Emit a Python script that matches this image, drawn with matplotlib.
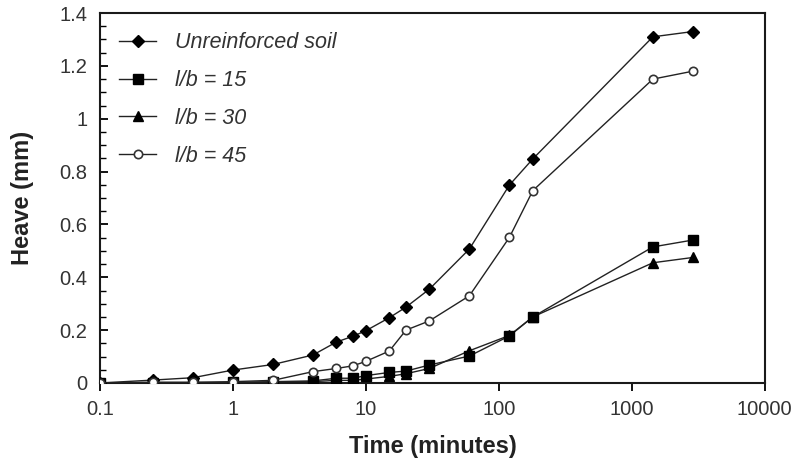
import numpy as np
import matplotlib
matplotlib.use("Agg")
import matplotlib.pyplot as plt
from matplotlib.ticker import FixedLocator, MultipleLocator, FuncFormatter

plt.rcParams['font.family'] = ['Liberation Sans', 'DejaVu Sans']

# Time in minutes
time_min = [0.1, 0.25, 0.5, 1, 2, 4, 6, 8, 10, 15, 20, 30, 60, 120, 180, 1440, 2880]

# Heave (mm) for each case
unreinforced = [0, 0.011, 0.02, 0.049, 0.07, 0.106, 0.155, 0.177, 0.198, 0.247,
                0.287, 0.355, 0.507, 0.749, 0.848, 1.31, 1.33]
lb15 = [0, 0, 0, 0.002, 0.005, 0.008, 0.018, 0.018, 0.028, 0.04,
        0.045, 0.068, 0.102, 0.178, 0.25, 0.515, 0.541]
lb30 = [0, 0, 0, 0, 0.004, 0.005, 0.01, 0.01, 0.015, 0.025,
        0.035, 0.055, 0.122, 0.18, 0.25, 0.455, 0.475]
lb45 = [0, 0.003, 0.003, 0.005, 0.01, 0.043, 0.055, 0.065, 0.082, 0.121,
        0.2, 0.235, 0.33, 0.551, 0.728, 1.15, 1.18]

labels = ["Unreinforced soil", "l/b = 15", "l/b = 30", "l/b = 45"]

fig = plt.figure(figsize=(8, 4.59), dpi=100)
ax = fig.add_axes([0.125, 0.1656, 0.831, 0.806])

lc = '#222222'
ax.plot(time_min, unreinforced, color=lc, lw=1.0, marker='D', ms=6.5,
        mfc='black', mec='black', label=labels[0], zorder=3)
ax.plot(time_min, lb15, color=lc, lw=1.0, marker='s', ms=7,
        mfc='black', mec='black', label=labels[1], zorder=3)
ax.plot(time_min, lb30, color=lc, lw=1.0, marker='^', ms=7.5,
        mfc='black', mec='black', label=labels[2], zorder=2)
ax.plot(time_min, lb45, color=lc, lw=1.0, marker='o', ms=6,
        mfc='white', mec='#333333', mew=1.2, label=labels[3], zorder=3)

ax.set_xscale('log')
ax.set_xlim(0.1, 10000)
ax.set_ylim(0, 1.4)
ax.xaxis.set_major_locator(FixedLocator([0.1, 1, 10, 100, 1000, 10000]))
ax.xaxis.set_minor_locator(FixedLocator([]))
ax.xaxis.set_major_formatter(FuncFormatter(lambda v, p: '%g' % v))
ax.yaxis.set_major_locator(MultipleLocator(0.2))
ax.yaxis.set_minor_locator(MultipleLocator(0.05))
ax.yaxis.set_major_formatter(FuncFormatter(lambda v, p: '%g' % round(v, 2)))

ax.tick_params(axis='x', which='major', direction='out', length=6, width=1.3,
               labelsize=14.5, labelcolor='#333333', pad=6)
ax.tick_params(axis='y', which='major', direction='in', length=6, width=1.3,
               labelsize=14.5, labelcolor='#333333', pad=9)
ax.tick_params(axis='y', which='minor', direction='in', length=4, width=1.0)

for s in ax.spines.values():
    s.set_linewidth(1.5)
    s.set_color('#1a1a1a')

ax.set_xlabel("Time (minutes)", fontsize=17, fontweight='bold', color='#222222', labelpad=12)
ax.set_ylabel("Heave (mm)", fontsize=17, fontweight='bold', color='#222222', labelpad=18)

leg = ax.legend(loc='upper left', frameon=False, fontsize=15.5, handlelength=1.72,
                labelspacing=0.78, handletextpad=0.88, borderaxespad=0.5,
                bbox_to_anchor=(0.0, 1.0))
for t in leg.get_texts():
    t.set_fontstyle('italic')
    t.set_color('#333333')

fig.savefig("out.png", dpi=100)
